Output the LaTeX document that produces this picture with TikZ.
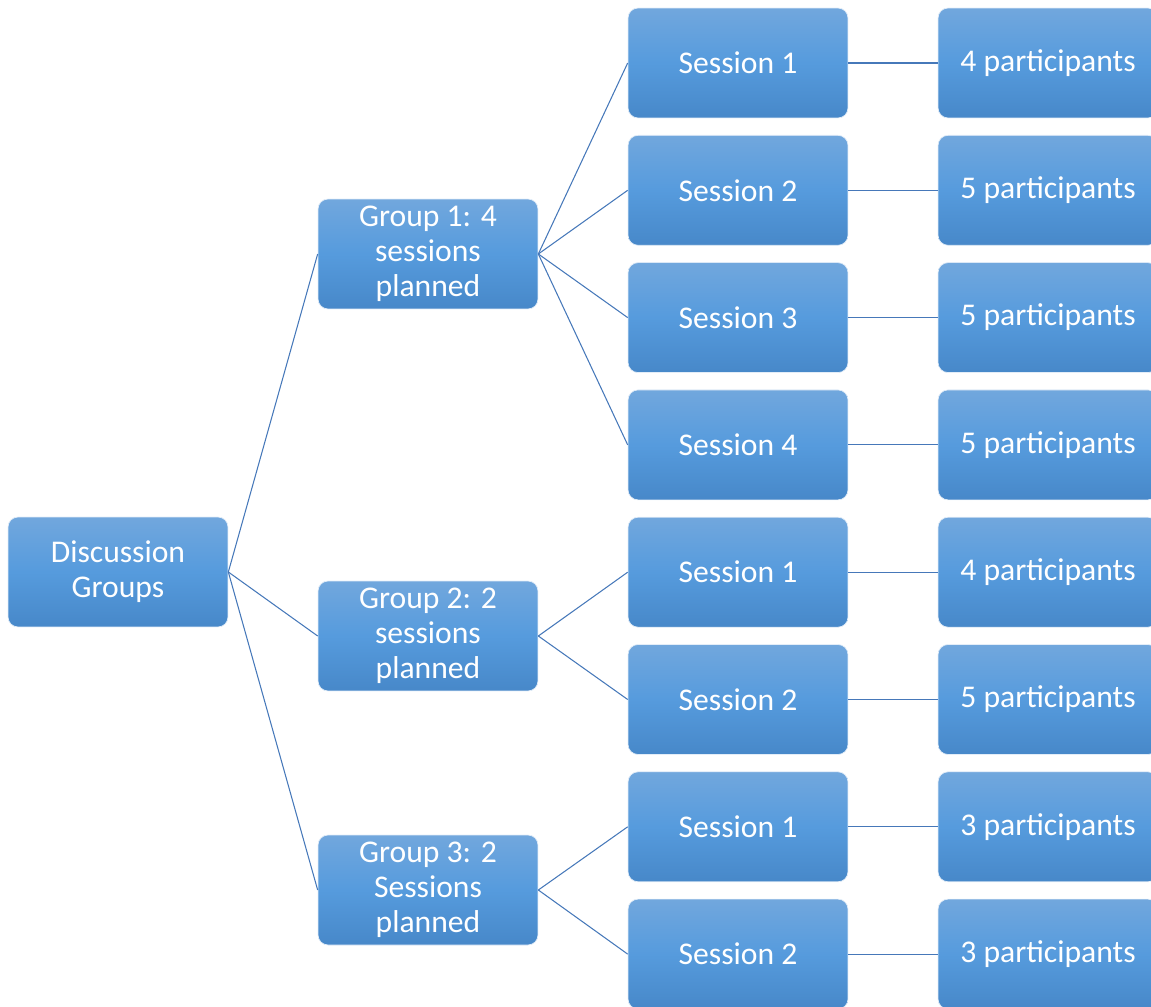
\documentclass[tikz,border=0pt]{standalone}
\usepackage{fontspec}
\setmainfont{Carlito}

\definecolor{boxtop}{RGB}{113,167,221}
\definecolor{boxmid}{RGB}{86,155,221}
\definecolor{boxbot}{RGB}{71,136,201}
\definecolor{linkblue}{RGB}{70,120,185}

\tikzset{
	box/.style={rectangle, rounded corners=0.2cm, minimum width=4.4cm, minimum height=2.2cm,
		top color=boxtop, bottom color=boxbot, middle color=boxmid,
		draw=white!80!boxtop, line width=0.4pt, text=white, align=center,
		font=\fontsize{18}{20}\selectfont, inner sep=0pt},
	link/.style={draw=linkblue, line width=0.6pt}
}

\begin{document}
\begin{tikzpicture}[x=0.02cm,y=-0.02cm]

	\useasboundingbox (0,0) rectangle (1151,1006);

	\node[box] (r) at (118,572) {Discussion\\Groups};
	\node[box] (g_1) at (428,254) {Group 1: 4\\sessions\\planned};
	\node[box] (g_2) at (428,636) {Group 2: 2\\sessions\\planned};
	\node[box] (g_3) at (428,890) {Group 3: 2\\Sessions\\planned};

	\foreach \i/\s/\p/\g in {0/1/4/1, 1/2/5/1, 2/3/5/1, 3/4/5/1, 4/1/4/2, 5/2/5/2, 6/1/3/3, 7/2/3/3}
{
	\node[box] (s_\i) at (738,63+127.3*\i) {Session \s};
	\node[box] (p_\i) at (1048,63+127.3*\i) {\p\ participants};
	\draw[link] (g_\g.east) -- (s_\i.west);
	\draw[link] (s_\i.east) -- (p_\i.west);
}

	\foreach \g in {1,2,3}
		\draw[link] (r.east) -- (g_\g.west);

\end{tikzpicture}
\end{document}
